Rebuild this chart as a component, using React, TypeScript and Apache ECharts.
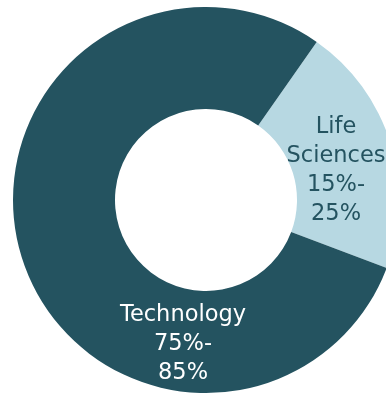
import React, { useEffect, useRef } from "react";
import * as echarts from "echarts";

const categories = ["Life Sciences", "Technology"];
const values = [21, 79];
const rangeLabels = ["15%-\n25%", "75%-\n85%"];
const nameLabels = ["Life\nSciences", "Technology"];
const colors = ["#b7d8e2", "#245360"];
const textColors = ["#245360", "#ffffff"];

export default function App() {
  const ref = useRef<HTMLDivElement>(null);
  useEffect(() => {
    if (!ref.current) return;
    const chart = echarts.init(ref.current, undefined, { renderer: "svg" });
    chart.setOption({
      animation: false,
      series: [
        {
          type: "pie",
          center: [206, 200],
          radius: [91, 193],
          startAngle: 55,
          clockwise: true,
          avoidLabelOverlap: false,
          silent: true,
          data: categories.map((c, i) => ({
            name: c,
            value: values[i],
            itemStyle: { color: colors[i] },
            label: {
              show: true,
              position: "inside",
              formatter: nameLabels[i] + "\n" + rangeLabels[i],
              color: textColors[i],
              fontFamily: "DejaVu Sans",
              fontSize: 22.5,
              fontWeight: "normal",
              lineHeight: 29,
              align: "center",
              verticalAlign: "middle",
            },
          })),
          labelLine: { show: false },
          labelLayout: (params: any) =>
            params.dataIndex === 0
              ? { x: 336, y: 168, align: "center", verticalAlign: "middle" }
              : { x: 183, y: 342, align: "center", verticalAlign: "middle" },
        },
      ],
    });
    return () => chart.dispose();
  }, []);
  return (
    <div
      ref={ref}
      style={{ position: "fixed", left: 0, top: 0, width: 386, height: 396 }}
    />
  );
}
